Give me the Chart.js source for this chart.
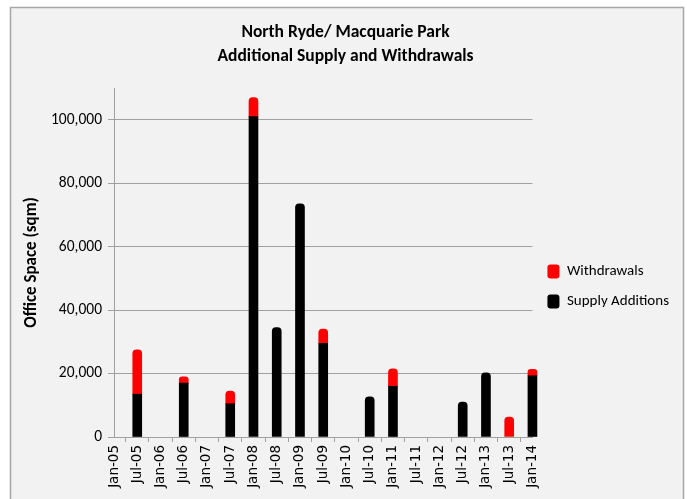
<!DOCTYPE html>
<html>
<head>
<meta charset="utf-8">
<script src="https://cdn.jsdelivr.net/npm/chart.js@4/dist/chart.umd.min.js"></script>
<style>
  html, body { margin: 0; padding: 0; background: #ffffff; }
  canvas { display: block; }
</style>
</head>
<body>
<canvas id="chart" width="687" height="499"></canvas>
<script>
// Half-yearly periods on the category axis
const periods = ['Jan-05', 'Jul-05', 'Jan-06', 'Jul-06', 'Jan-07', 'Jul-07', 'Jan-08', 'Jul-08',
  'Jan-09', 'Jul-09', 'Jan-10', 'Jul-10', 'Jan-11', 'Jul-11', 'Jan-12', 'Jul-12',
  'Jan-13', 'Jul-13', 'Jan-14'];

// Office space (sqm) added and withdrawn in each period
const supplyAdditions = [null, 13500, null, 17000, null, 10500, 101000, 34500,
  73500, 29500, null, 12700, 16000, null, null, 11000,
  20200, null, 19300];
const withdrawals = [null, 14000, null, 2000, null, 4000, 6000, null,
  null, 4500, null, null, 5500, null, null, null,
  null, 6300, 2000];

// Value axis labels
const yTickValues = [0, 20000, 40000, 60000, 80000, 100000];

const FONT = "Carlito, Calibri, 'Liberation Sans Narrow', 'DejaVu Sans Condensed', sans-serif";
const AXIS_FONT = "'DejaVu Sans', Verdana, sans-serif";
const GRID = '#a0a0a0';

// Panel background with its frame
const panelBackground = {
  id: 'panelBackground',
  beforeDraw(chart) {
    const ctx = chart.ctx;
    ctx.save();
    ctx.fillStyle = '#ffffff';
    ctx.fillRect(0, 0, chart.width, chart.height);
    ctx.fillStyle = '#f2f2f2';
    ctx.fillRect(10, 7, 674, chart.height);
    ctx.strokeStyle = '#a6a6a6';
    ctx.lineWidth = 1.5;
    ctx.strokeRect(10.5, 7.5, 673, chart.height + 10);
    ctx.restore();
  }
};

new Chart(document.getElementById('chart'), {
  type: 'bar',
  data: {
    labels: periods,
    datasets: [
      {
        label: 'Supply Additions',
        data: supplyAdditions,
        backgroundColor: '#000000',
        borderRadius: 4,
        barThickness: 9,
        clip: false
      },
      {
        label: 'Withdrawals',
        data: withdrawals,
        backgroundColor: '#ff0000',
        borderRadius: 4,
        barThickness: 9,
        clip: false
      }
    ]
  },
  options: {
    responsive: false,
    devicePixelRatio: 1,
    animation: false,
    layout: { padding: { left: 12, right: 8, top: 0, bottom: 0 } },
    plugins: {
      title: {
        display: true,
        text: ['North Ryde/ Macquarie Park', 'Additional Supply and Withdrawals'],
        color: '#000000',
        font: { family: FONT, size: 17.5, weight: 'bold', lineHeight: '24px' },
        padding: { top: 21, bottom: 19 }
      },
      legend: {
        position: 'right',
        fullSize: false,
        reverse: true,
        title: {
          display: true,
          text: ' ',
          padding: 0,
          font: { family: FONT, size: 10, lineHeight: '48px' }
        },
        labels: {
          color: '#000000',
          font: { family: FONT, size: 15 },
          boxWidth: 12,
          boxHeight: 14,
          useBorderRadius: true,
          borderRadius: 3,
          padding: 15
        }
      },
      tooltip: { enabled: false }
    },
    scales: {
      x: {
        stacked: true,
        offset: false,
        grid: {
          drawOnChartArea: false,
          drawTicks: true,
          tickLength: 5,
          color: GRID
        },
        border: { display: true, color: GRID, width: 1 },
        ticks: {
          autoSkip: false,
          minRotation: 90,
          maxRotation: 90,
          padding: 3,
          color: '#000000',
          font: { family: AXIS_FONT, size: 13.5 }
        },
        afterFit(scale) { scale.height = 62; }
      },
      y: {
        stacked: true,
        min: 0,
        max: 110000,
        afterBuildTicks(scale) {
          scale.ticks = yTickValues.map(v => ({ value: v }));
        },
        grid: {
          color: GRID,
          tickLength: 6,
          drawTicks: true
        },
        border: { display: true, color: GRID, width: 1 },
        ticks: {
          padding: 6,
          color: '#000000',
          font: { family: FONT, size: 15.5 },
          callback: v => Number(v).toLocaleString('en-US')
        },
        title: {
          display: true,
          text: 'Office Space (sqm)',
          color: '#000000',
          font: { family: FONT, size: 17, weight: 'bold' },
          padding: { top: 10, bottom: 0 }
        },
        afterFit(scale) { scale.width = 102; }
      }
    }
  },
  plugins: [panelBackground]
});
</script>
</body>
</html>
